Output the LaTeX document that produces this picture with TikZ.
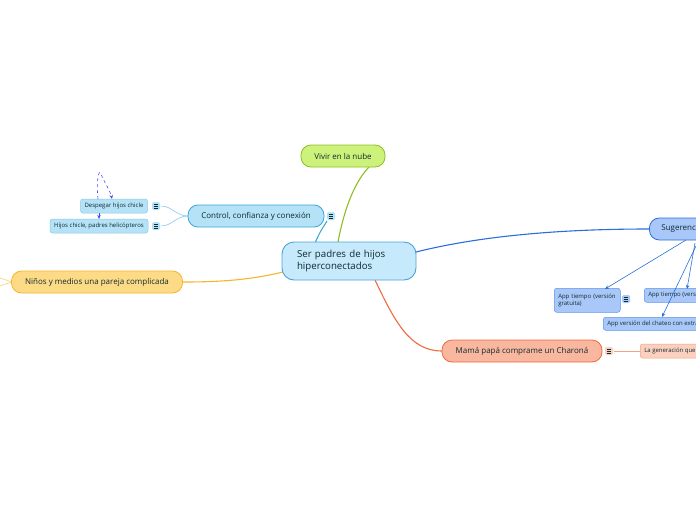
\documentclass[tikz,border=0pt]{standalone}
\usepackage{fontspec}
\setmainfont{Open Sans}
\usepackage{tikz}
\usetikzlibrary{arrows.meta,positioning,calc}

\definecolor{ink}{HTML}{102B2E}
\definecolor{rootfill}{HTML}{C6E9FB}
\definecolor{rootline}{HTML}{4AA3DC}
\definecolor{ctrlfill}{HTML}{B5E2F7}
\definecolor{ctrlline}{HTML}{3BA6DD}
\definecolor{nubefill}{HTML}{CCF27C}
\definecolor{nubeline}{HTML}{8DBE22}
\definecolor{medfill}{HTML}{FDDB86}
\definecolor{medline}{HTML}{F5B52E}
\definecolor{sugfill}{HTML}{A9C8F9}
\definecolor{sugline}{HTML}{2A6ED8}
\definecolor{appline}{HTML}{5B95EA}
\definecolor{momfill}{HTML}{F9B7A0}
\definecolor{momline}{HTML}{F06A3C}
\definecolor{genfill}{HTML}{FBD0BF}
\definecolor{genline}{HTML}{F4A27E}

\begin{document}
\begin{tikzpicture}[x=1pt, y=-1pt,
  root/.style={draw=rootline, fill=rootfill, line width=0.9pt, rounded corners=12pt,
    align=left, text width=104pt, inner xsep=15pt, minimum height=38pt,
    font=\fontsize{9.7}{12.5}\selectfont, text=ink},
  topic/.style={draw=#1line, fill=#1fill, line width=0.8pt, rounded corners=10pt,
    align=center, minimum height=22pt, font=\fontsize{8}{9.5}\selectfont, text=ink},
  leaf/.style={draw=#1, fill=ctrlfill, line width=0.5pt, rounded corners=2.5pt,
    align=left, minimum height=14pt, inner xsep=4pt,
    font=\fontsize{6}{7.4}\selectfont, text=ink},
  noteicon/.pic={
    \fill[#1, rounded corners=1.5pt] (-4,-4) rectangle (4,4);
    \foreach \yy in {-2,0,2}
      \draw[ink, line width=0.6pt] (-2.3,\yy) -- (2.3,\yy);
  },
  branch/.style={line width=1.1pt},
  twig/.style={line width=0.5pt},
  pointer/.style={-{Stealth[length=4pt,width=3.5pt]}, line width=0.6pt, draw=sugline}
]
\useasboundingbox (0,0) rectangle (696,520);
\begin{scope}
\clip (0,0) rectangle (696,520);

% connectors first, nodes drawn on top
\coordinate (rootN) at (338,242);
\coordinate (rootNW) at (315,243);
\coordinate (rootW) at (283,272);
\coordinate (rootE) at (416,252);
\coordinate (rootS) at (375,280);

\draw[branch, nubeline] (rootN) .. controls (345,205) and (356,180) .. (370,166);
\draw[branch, ctrlline] (rootNW) .. controls (320,232) .. (327,221);
\draw[branch, medline] (rootW) .. controls (250,280) and (220,282) .. (183,282);
\draw[branch, sugline] (rootE) .. controls (480,236) and (560,229) .. (649,229);
\draw[branch, momline] (rootS) .. controls (395,322) and (410,351) .. (442,351);

% control branch twigs
\draw[twig, ctrlline!70] (188,216) .. controls (176,216) and (172,206) .. (161,206);
\draw[twig, ctrlline!70] (188,216) .. controls (176,216) and (172,226) .. (161,226);

% stubs left of the media node
\draw[twig, medline!70] (12,282) -- (0,278);
\draw[twig, medline!70] (12,282) -- (0,286);

% nodes
\node[root] (root) at (349,261) {Ser padres de hijos\\hiperconectados};
\node[topic=nube, minimum width=84pt] (nube) at (343,156) {Vivir en la nube};
\node[topic=ctrl, minimum width=136pt] (ctrl) at (256,216) {Control, confianza y conexión};
\node[topic=med, minimum width=171pt] (med) at (97,282) {Niños y medios una pareja complicada};
\node[topic=sug, anchor=west, align=left, text width=80pt, inner xsep=12pt] (sug) at (649,229) {Sugerencias};
\node[topic=mom, minimum width=160pt] (mom) at (522,351) {Mamá papá comprame un Charoná};

\node[leaf=ctrlline!60, minimum width=67pt, align=center] (despegar) at (114,206) {Despegar hijos chicle};
\node[leaf=ctrlline!60, minimum width=98pt, align=center] (helico) at (99,226) {Hijos chicle, padres helicópteros};

\node[leaf=appline, fill=sugfill, text width=58pt, minimum height=24pt, inner xsep=4pt,
  anchor=north west] (gratis) at (554,288) {App tiempo (versión\\gratuita)};
\node[leaf=appline, fill=sugfill, anchor=north west, minimum height=14pt] (pago) at (644,288) {App tiempo (versión};
\node[leaf=appline, fill=sugfill, anchor=north west, minimum height=13pt] (chateo) at (603,317) {App versión del chateo con extras};

\node[leaf=genline, fill=genfill, anchor=west, minimum height=14pt] (gen) at (640,351) {La generación que};

% note icons
\pic at (331,216) {noteicon=ctrlfill};
\pic at (156,206) {noteicon=ctrlfill};
\pic at (156,226) {noteicon=ctrlfill};
\pic at (626,299) {noteicon=sugfill};
\pic at (609,351) {noteicon=genfill};
\draw[twig, genline] (614,351) -- (gen.west);

% suggestion arrows
\draw[pointer] (686,240) -- (605,289);
\draw[pointer] (695,243) -- (687,289);
\draw[pointer] (696,246) -- (662,317);

% relations on the control leaves
\draw[pointer, dashed, draw=blue!70] (98,199) .. controls (96,180) and (99,168) .. (101,174) .. controls (104,182) and (110,190) .. (112,199);
\draw[pointer, dashed, draw=blue!70] (99,213) -- (99,219);
\end{scope}
\end{tikzpicture}
\end{document}
